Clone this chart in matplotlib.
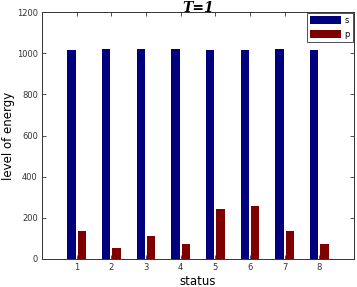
import matplotlib
matplotlib.use("Agg")
import matplotlib.pyplot as plt
import numpy as np

categories = [1, 2, 3, 4, 5, 6, 7, 8]
s_values = [1015, 1020, 1020, 1020, 1015, 1015, 1020, 1015]
p_values = [135, 55, 110, 71, 243, 256, 134, 71]
yticks = [0, 200, 400, 600, 800, 1000, 1200]

fig = plt.figure(figsize=(3.57, 2.87), dpi=100)
ax = fig.add_axes([42/357, 1 - 259/287, (354-42)/357, (259-12)/287])

x = np.array(categories)
w = 0.24
ax.bar(x - 0.15, s_values, width=w, color="#00007f", label="s")
ax.bar(x + 0.15, p_values, width=w, color="#7f0000", label="p")

ax.set_xlim(0, 9)
ax.set_ylim(0, 1200)
ax.set_xticks(categories)
ax.set_yticks(yticks)
ax.tick_params(direction="in", top=True, right=True, labelsize=6, length=3, width=0.6, pad=3, colors="#333333")
for sp in ax.spines.values():
    sp.set_linewidth(0.7)
    sp.set_color("#333333")

ax.set_xlabel("status", fontsize=8.5, labelpad=2)
ax.set_ylabel("level of energy", fontsize=8.5, labelpad=1)
ax.set_title("T=1", fontsize=10, family="DejaVu Serif", style="italic", weight="bold", pad=0)

leg = ax.legend(loc="upper right", fontsize=6, handlelength=3.7, handleheight=1.15,
                borderaxespad=0.15, fancybox=False, framealpha=1, edgecolor="#333333",
                borderpad=0.35, labelspacing=0.55, handletextpad=0.4)
leg.get_frame().set_linewidth(0.6)

fig.savefig("out.png", dpi=100)
